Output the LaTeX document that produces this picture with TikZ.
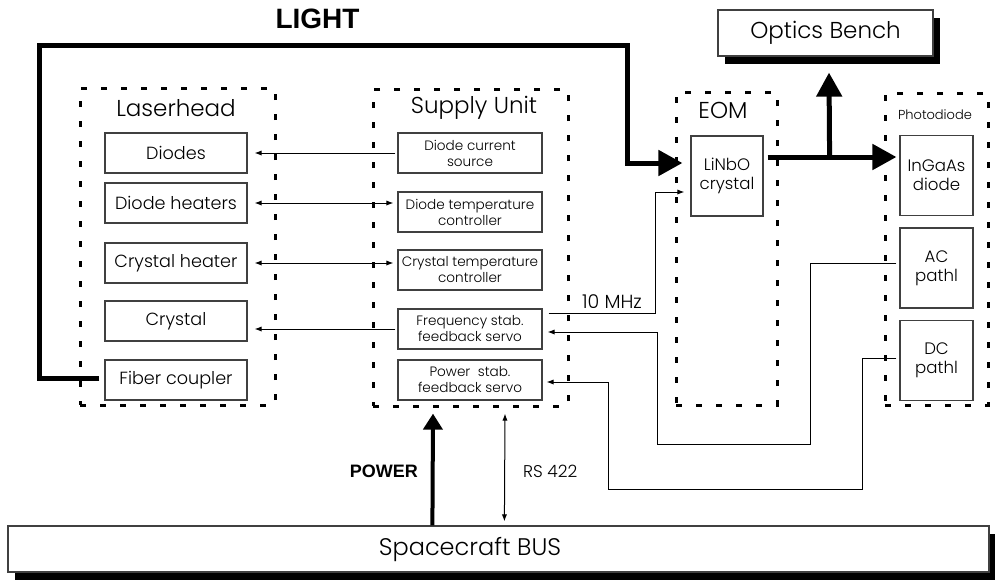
\documentclass[tikz,border=0pt]{standalone}
\usepackage{fontspec}
\setmainfont{Poppins}[UprightFont=* Light]
\newfontfamily\headfont{Liberation Sans}
\usetikzlibrary{arrows.meta,calc,shadows}

\begin{document}
\begin{tikzpicture}[x=0.5pt,y=-0.5pt,
  >={Latex[length=3.5pt,width=2.6pt]},
  group/.style={draw,line width=1.5pt,dash pattern=on 3pt off 7pt,inner sep=0pt},
  title/.style={inner sep=0pt,font=\fontsize{11.5}{13}\selectfont},
  unit/.style={draw=black!75,line width=0.6pt,inner sep=1pt,align=center},
  lbox/.style={unit,minimum width=71pt,minimum height=20pt,font=\fontsize{8.8}{10}\selectfont},
  sbox/.style={unit,minimum width=72pt,minimum height=20pt,font=\fontsize{6.8}{8}\selectfont},
  cbox/.style={unit,minimum width=36.5pt,minimum height=40pt,font=\fontsize{8.3}{9.5}\selectfont},
  shadowbox/.style={unit,fill=white,drop shadow={shadow xshift=3.5pt,shadow yshift=-4pt,fill=black,opacity=1}},
  sig/.style={line width=0.5pt},
  beam/.style={line width=2.5pt,-{Triangle[length=12pt,width=12.5pt]}},
  pwr/.style={line width=2pt,-{Triangle[length=8pt,width=9.5pt]}},
  bold/.style={font=\headfont\bfseries\fontsize{9}{11}\selectfont}]
\useasboundingbox (0,0) rectangle (995,579);

\node[group,minimum width=97.5pt,minimum height=158.5pt] (laser) at (177.5,246.5) {};
\node[title] at (176,108) {Laserhead};
\node[lbox] (diodes) at (176,153) {Diodes};
\node[lbox] (dheat) at (176,203) {Diode heaters};
\node[lbox] (cheat) at (176,263) {Crystal heater};
\node[lbox] (crystal) at (176,321) {Crystal};
\node[lbox] (fiber) at (176,380) {Fiber coupler};

\node[group,minimum width=97.5pt,minimum height=158.5pt] (supply) at (470.5,247.5) {};
\node[title] at (474,108) {Supply Unit};
\node[sbox] (dcs) at (470,153) {Diode current\\source};
\node[sbox] (dtc) at (470,212) {Diode temperature\\controller};
\node[sbox] (ctc) at (470,270) {Crystal temperature\\controller};
\node[sbox] (fsb) at (470,329) {Frequency stab.\\feedback servo};
\node[sbox] (psb) at (470,380) {Power\ \ stab.\\feedback servo};

\node[group,minimum width=50.5pt,minimum height=156.5pt] (eom) at (726.5,248.5) {};
\node[title] at (723,110) {EOM};
\node[cbox,minimum width=36pt] (linbo) at (727,176) {LiNbO\\crystal};

\node[group,minimum width=51.5pt,minimum height=156pt] (pd) at (936.5,249) {};
\node[inner sep=0pt,font=\fontsize{6.5}{8}\selectfont] at (935,115) {Photodiode};
\node[cbox] (ingaas) at (936.5,175.5) {InGaAs\\diode};
\node[cbox] (acp) at (936.5,268) {AC\\pathl};
\node[cbox] (dcp) at (936.5,360.5) {DC\\pathl};

\node[shadowbox,minimum width=107.5pt,minimum height=23pt,font=\fontsize{11.5}{13}\selectfont] (optics) at (825.5,33) {Optics Bench};
\node[shadowbox,minimum width=490.5pt,minimum height=23pt,font=\fontsize{12}{14}\selectfont] (bus) at (498.5,549) {Spacecraft BUS\hspace{28.5pt}};

\node[font=\headfont\bfseries\fontsize{14}{16}\selectfont] (light) at (317.5,19) {LIGHT};
\node[bold,anchor=east] (power) at (425,471) {POWER};
\node[anchor=west,font=\fontsize{8.5}{10}\selectfont] (rs) at (516,471) {RS 422};
\node[font=\fontsize{9.5}{11}\selectfont] (mhz) at (612,302) {10 MHz};

\draw[sig,->,shorten <=1pt,shorten >=3.5pt] (dcs.west) -- (dcs.west -| diodes.east);
\draw[sig,<->,shorten <=3.5pt,shorten >=2pt] (dheat.east) -- (dheat.east -| dtc.west);
\draw[sig,<->,shorten <=3.5pt,shorten >=2pt] (cheat.east) -- (cheat.east -| ctc.west);
\draw[sig,->,shorten <=1pt,shorten >=3.5pt] (fsb.west) -- (fsb.west -| crystal.east);
\draw[sig,->] ($(fsb.north east)+(6,5)$) -| ($(linbo.west)+(-35,16)$) -- ($(linbo.west)+(-6,16)$);
\draw[sig,->] ($(acp.west)+(-3,-5)$) -| ++(-86,181) -| ($(fsb.east)+(115,3)$) -- ($(fsb.east)+(5,3)$);
\draw[sig,->] ($(dcp.west)+(-3,-2.5)$) -| ++(-34,131) -| ($(psb.east)+(66,2)$) -- ($(psb.east)+(4,2)$);

\draw[beam] ($(fiber.west)+(-5,-2)$) -- ++(-60,0) |- ($(linbo.west)+(-63,-131)$) |- ($(linbo.west)+(-8,-13)$);
\coordinate (split) at ($(linbo.east)+(66,-19)$);
\draw[beam] ($(linbo.east)+(4,-19)$) -- ($(ingaas.west)+(-3,-18.5)$);
\draw[beam] (split) -- ($(optics.south)+(3.5,16)$);
\draw[pwr] ($(bus.north west)+(425,0)$) -- ($(psb.south)+(-37,13)$);
\draw[sig,<->] ($(psb.south)+(35,13)$) -- ($(bus.north west)+(497,-4)$);
\end{tikzpicture}
\end{document}
